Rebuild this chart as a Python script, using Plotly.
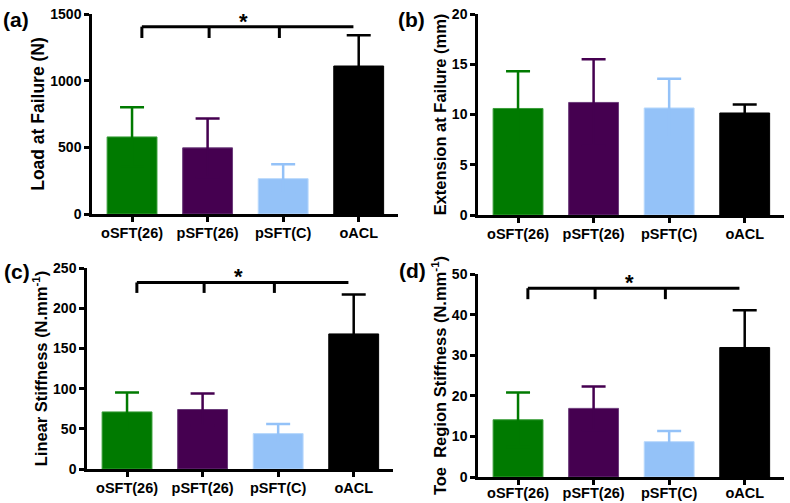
import plotly.graph_objects as go

groups = ["oSFT(26)", "pSFT(26)", "pSFT(C)", "oACL"]
bar_colors = ["#007A00", "#450050", "#94C2F8", "#000000"]
edge_colors = ["#3A9E3A", "#6B3B7A", "#B8D8FC", "#000000"]

load_mean = [578, 496, 265, 1110]
load_sd = [222, 220, 108, 230]
ext_mean = [10.6, 11.2, 10.65, 10.15]
ext_sd = [3.7, 4.3, 2.9, 0.85]
lin_mean = [71, 74, 44, 168]
lin_sd = [24, 20, 12, 49]
toe_mean = [14.1, 16.9, 8.7, 31.9]
toe_sd = [6.7, 5.4, 2.6, 9.2]

# significance brackets: (top level, drop level)
load_bracket = [1405, 1320]
lin_bracket = [232, 219]
toe_bracket = [46.5, 43.8]

W, H = 790, 503
FONT = "Arial, Liberation Sans, sans-serif"
XR = [-0.53, 3.52]

panels = [
    dict(tag="(a)", mean=load_mean, sd=load_sd, title="Load at Failure (N)",
         yr=[0, 1500], dtick=500, px=(92, 398), py=(14, 214), br=load_bracket, ts=17.5, lo=-1),
    dict(tag="(b)", mean=ext_mean, sd=ext_sd, title="Extension at Failure (mm)",
         yr=[0, 20], dtick=5, px=(478, 784), py=(14, 215), br=None, ts=16.5, lo=-1),
    dict(tag="(c)", mean=lin_mean, sd=lin_sd, title="Linear Stiffness (N.mm<sup>-1</sup>)",
         yr=[0, 250], dtick=50, px=(87, 393), py=(268, 469), br=lin_bracket, ts=16.5, lo=-1),
    dict(tag="(d)", mean=toe_mean, sd=toe_sd, title="Toe  Region Stiffness (N.mm<sup>-1</sup>)",
         yr=[0, 50], dtick=10, px=(478, 784), py=(274, 477), br=toe_bracket, ts=16.5, lo=-4),
]

tag_pos = [(16, 20), (411, 20), (17, 271), (412, 270)]

fig = go.Figure()
shapes = []
annotations = []

for k, p in enumerate(panels):
    n = "" if k == 0 else str(k + 1)
    xa, ya = "x" + n, "y" + n
    for i, g in enumerate(groups):
        # symmetric bar: the lower half hides inside the same-coloured bar
        fig.add_trace(go.Bar(
            x=[i], y=[p["mean"][i]], xaxis=xa, yaxis=ya,
            width=0.66,
            marker=dict(color=bar_colors[i], line=dict(color=edge_colors[i], width=1)),
            error_y=dict(type="data", array=[p["sd"][i]],
                         color=bar_colors[i], thickness=2.5, width=12),
            showlegend=False,
        ))
    x0, x1 = p["px"]
    yt, yb = p["py"]
    fig.layout["xaxis" + n] = dict(
        domain=[x0 / W, x1 / W], range=XR, anchor=ya, automargin=False,
        tickmode="array", tickvals=list(range(4)), ticktext=groups,
        showline=True, linecolor="black", linewidth=2.5,
        ticks="outside", ticklen=5, tickwidth=2.5, tickcolor="black",
        ticklabelstandoff=p["lo"],
        showgrid=False, zeroline=False,
        tickfont=dict(family=FONT, size=14.5, color="black", weight="bold"),
    )
    fig.layout["yaxis" + n] = dict(
        domain=[1 - yb / H, 1 - yt / H], range=p["yr"], dtick=p["dtick"], anchor=xa,
        automargin=False,
        showline=True, linecolor="black", linewidth=2.5,
        ticks="outside", ticklen=5, tickwidth=2.5, tickcolor="black",
        showgrid=False, zeroline=False,
        tickfont=dict(family=FONT, size=14, color="black", weight="bold"),
        title=dict(text=p["title"], standoff=2,
                   font=dict(family=FONT, size=p["ts"], color="black", weight="bold")),
    )
    if p["br"]:
        top, drop = p["br"]
        xs = [0.13, 1.02, 1.95, 2.93]
        line = dict(color="black", width=3)
        shapes.append(dict(type="line", xref=xa, yref=ya, x0=xs[0], x1=xs[-1], y0=top, y1=top, line=line))
        for xv in xs[:3]:
            shapes.append(dict(type="line", xref=xa, yref=ya, x0=xv, x1=xv, y0=top, y1=drop, line=line))
        annotations.append(dict(x=1.47, y=top, xref=xa, yref=ya, text="<b>*</b>", showarrow=False,
                                yanchor="bottom", yshift=-9,
                                font=dict(family=FONT, size=22, color="black")))
    tx, ty = tag_pos[k]
    annotations.append(dict(x=tx / W, y=1 - ty / H, xref="paper", yref="paper", text="<b>" + p["tag"] + "</b>",
                            showarrow=False, xanchor="center", yanchor="middle",
                            font=dict(family=FONT, size=21, color="black")))

fig.update_layout(
    width=W, height=H,
    margin=dict(l=0, r=0, t=0, b=0),
    barmode="overlay",
    paper_bgcolor="white", plot_bgcolor="white",
    shapes=shapes, annotations=annotations,
    showlegend=False,
)

# drop the default body margin so the 790x503 figure fills the window
fig.write_html("out.html", config={"displayModeBar": False},
               post_script="document.body.style.margin='0';")
